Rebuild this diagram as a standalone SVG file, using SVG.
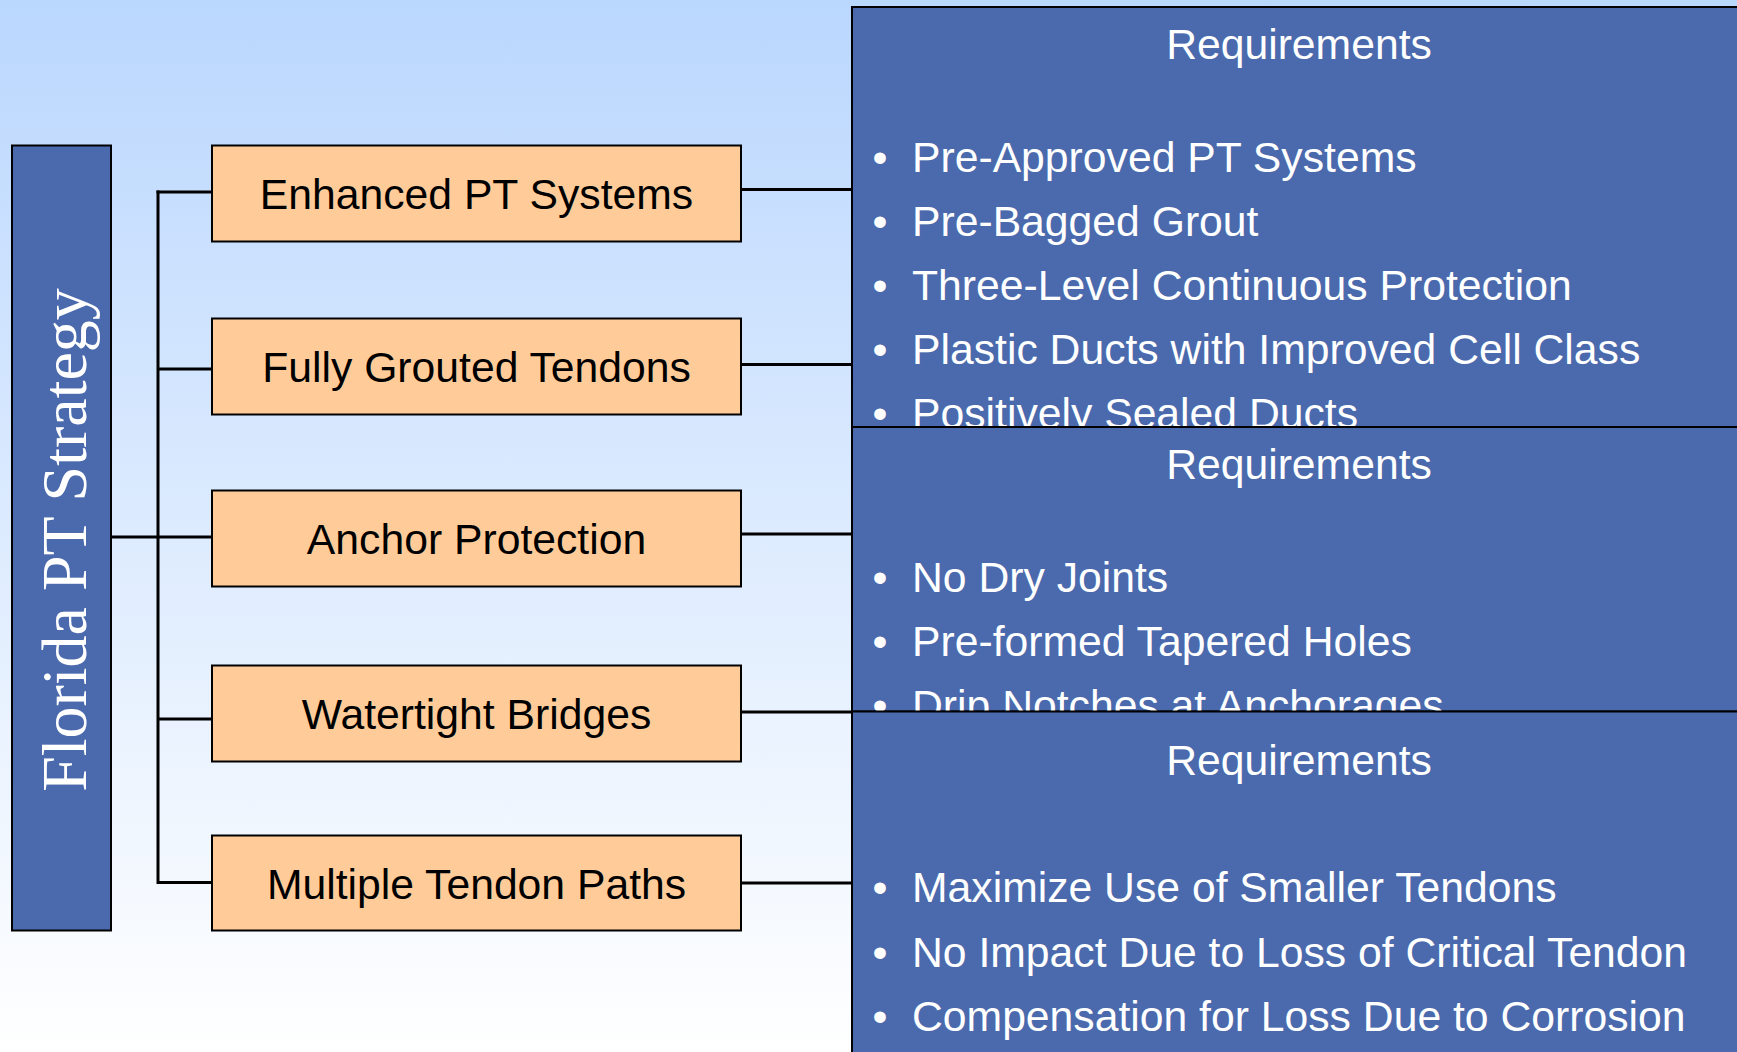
<svg xmlns="http://www.w3.org/2000/svg" width="1737" height="1052" viewBox="0 0 1737 1052">
  <defs>
    <linearGradient id="bg" x1="0" y1="0" x2="0" y2="1">
      <stop offset="0" stop-color="#bad7fe"/>
      <stop offset="1" stop-color="#ffffff"/>
    </linearGradient>
    <style>
      .blue { fill: #4a6aad; stroke: #000; stroke-width: 2; }
      .orange { fill: #ffcc99; stroke: #000; stroke-width: 2; }
      .lbl { font-family: "Liberation Sans", Arial, sans-serif; font-size: 42.7px; fill: #000; text-anchor: middle; }
      .ptxt { font-family: "Liberation Sans", Arial, sans-serif; font-size: 42.7px; fill: #fff; }
      .head { text-anchor: middle; }
      .bul { text-anchor: middle; }
      .conn line { stroke: #000; stroke-width: 3; }
      .title { font-family: "Liberation Serif", "Times New Roman", serif; font-size: 64px; fill: #fff; text-anchor: middle; }
    </style>
  </defs>

  <rect x="0" y="0" width="1737" height="1052" fill="url(#bg)"/>

  <g id="connectors" class="conn">
    <line x1="111" y1="537" x2="212" y2="537"/>
    <line x1="158" y1="190.5" x2="158" y2="884"/>
    <line x1="156.5" y1="192" x2="212" y2="192"/>
    <line x1="158" y1="369" x2="212" y2="369"/>
    <line x1="158" y1="882.5" x2="212" y2="882.5"/>
    <line x1="158" y1="719" x2="212" y2="719"/>
    <line x1="741" y1="189.5" x2="852" y2="189.5"/>
    <line x1="741" y1="364.5" x2="852" y2="364.5"/>
    <line x1="741" y1="534" x2="852" y2="534"/>
    <line x1="741" y1="712" x2="852" y2="712"/>
    <line x1="741" y1="883" x2="852" y2="883"/>
  </g>

  <g id="root">
    <rect class="blue" x="12" y="145.5" width="99" height="785"/>
    <text class="title" transform="translate(86,540) rotate(-90)" x="0" y="0">Florida PT Strategy</text>
  </g>

  <g id="n1">
    <rect class="orange" x="212" y="145.5" width="529" height="96"/>
    <text class="lbl" x="476.5" y="209">Enhanced PT Systems</text>
  </g>
  <g id="n2">
    <rect class="orange" x="212" y="318.5" width="529" height="96"/>
    <text class="lbl" x="476.5" y="382">Fully Grouted Tendons</text>
  </g>
  <g id="n3">
    <rect class="orange" x="212" y="490.5" width="529" height="96"/>
    <text class="lbl" x="476.5" y="554">Anchor Protection</text>
  </g>
  <g id="n4">
    <rect class="orange" x="212" y="665.5" width="529" height="96"/>
    <text class="lbl" x="476.5" y="729">Watertight Bridges</text>
  </g>
  <g id="n5">
    <rect class="orange" x="212" y="835.5" width="529" height="95"/>
    <text class="lbl" x="476.5" y="899">Multiple Tendon Paths</text>
  </g>

  <g id="req1">
    <rect class="blue" x="852" y="7" width="900" height="420"/>
    <text class="ptxt head" x="1299" y="59">Requirements</text>
    <text class="ptxt bul" x="880" y="171.5">•</text><text class="ptxt" x="912" y="171.5">Pre-Approved PT Systems</text>
    <text class="ptxt bul" x="880" y="236">•</text><text class="ptxt" x="912" y="236">Pre-Bagged Grout</text>
    <text class="ptxt bul" x="880" y="300">•</text><text class="ptxt" x="912" y="300">Three-Level Continuous Protection</text>
    <text class="ptxt bul" x="880" y="364">•</text><text class="ptxt" x="912" y="364">Plastic Ducts with Improved Cell Class</text>
    <text class="ptxt bul" x="880" y="428">•</text><text class="ptxt" x="912" y="428">Positively Sealed Ducts</text>
  </g>

  <g id="req2">
    <rect class="blue" x="852" y="427" width="900" height="284.5"/>
    <text class="ptxt head" x="1299" y="479">Requirements</text>
    <text class="ptxt bul" x="880" y="592">•</text><text class="ptxt" x="912" y="592">No Dry Joints</text>
    <text class="ptxt bul" x="880" y="656">•</text><text class="ptxt" x="912" y="656">Pre-formed Tapered Holes</text>
    <text class="ptxt bul" x="880" y="720">•</text><text class="ptxt" x="912" y="720">Drip Notches at Anchorages</text>
  </g>

  <g id="req3">
    <rect class="blue" x="852" y="711.5" width="900" height="360"/>
    <text class="ptxt head" x="1299" y="775">Requirements</text>
    <text class="ptxt bul" x="880" y="902">•</text><text class="ptxt" x="912" y="902">Maximize Use of Smaller Tendons</text>
    <text class="ptxt bul" x="880" y="967">•</text><text class="ptxt" x="912" y="967">No Impact Due to Loss of Critical Tendon</text>
    <text class="ptxt bul" x="880" y="1031">•</text><text class="ptxt" x="912" y="1031">Compensation for Loss Due to Corrosion</text>
  </g>
</svg>
